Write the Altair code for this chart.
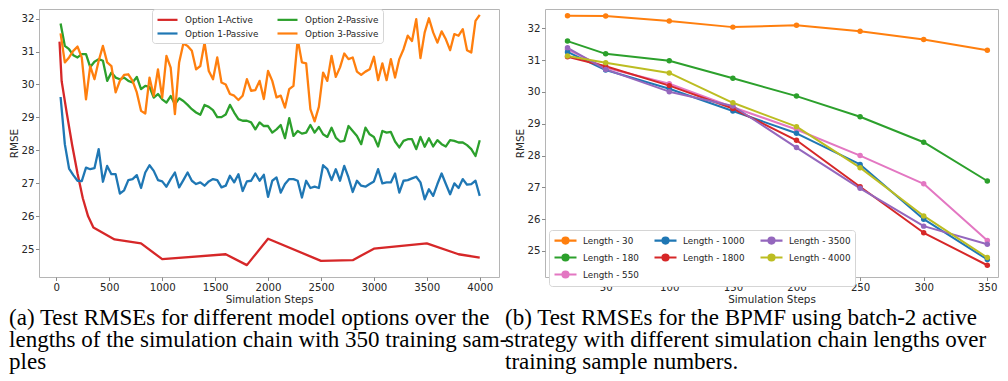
import altair as alt
import pandas as pd

# ---------------- Left panel data ----------------
active_steps = [30, 50, 100, 150, 200, 250, 300, 350, 550, 800, 1000, 1600, 1800,
                2000, 2500, 2800, 3000, 3500, 3800, 4000]
active_rmse = [31.3, 30.1, 29.1, 28.15, 27.3, 26.55, 26.0, 25.66, 25.3, 25.18, 24.70,
               24.85, 24.52, 25.32, 24.65, 24.67, 25.02, 25.18, 24.85, 24.75]

passive_steps = list(range(40, 4001, 40))

opt1_passive = [29.62, 28.19, 27.45, 27.25, 27.08, 27.07, 27.48, 27.43, 27.46, 28.04,
                27.05, 27.53, 27.28, 27.28, 26.69, 26.79, 27.10, 27.13, 27.25, 26.86,
                27.33, 27.55, 27.38, 27.10, 27.06, 26.90, 27.13, 27.33, 26.88, 27.10,
                27.33, 27.08, 26.98, 27.03, 26.93, 27.06, 27.13, 27.10, 26.88, 26.93,
                27.23, 27.03, 27.28, 26.77, 27.06, 27.08, 27.30, 27.08, 27.26, 26.59,
                27.08, 27.18, 26.72, 26.98, 27.13, 27.13, 27.08, 26.57, 27.08, 26.86,
                26.90, 26.86, 27.55, 27.43, 27.10, 27.43, 27.08, 27.53, 27.18, 26.74,
                27.08, 26.93, 26.90, 26.98, 27.06, 27.43, 27.00, 27.03, 27.03, 27.30,
                26.72, 27.08, 27.10, 27.15, 27.20, 27.03, 26.52, 26.82, 26.62, 26.98,
                27.30, 26.98, 26.67, 27.00, 26.86, 27.13, 26.96, 26.98, 27.08, 26.62]

opt2_passive = [31.85, 31.17, 31.07, 30.89, 30.82, 30.92, 30.92, 30.53, 30.69, 30.77,
                30.72, 30.11, 30.36, 30.21, 30.16, 30.21, 30.11, 30.06, 30.23, 29.86,
                29.96, 29.93, 29.60, 29.71, 29.55, 29.45, 29.65, 29.40, 29.58, 29.50,
                29.38, 29.25, 29.15, 29.08, 29.38, 29.32, 29.22, 29.01, 29.01, 29.09,
                29.38, 29.15, 28.95, 28.90, 28.90, 28.85, 28.64, 28.85, 28.74, 28.74,
                28.54, 28.64, 28.77, 28.37, 28.98, 28.44, 28.59, 28.51, 28.54, 28.77,
                28.54, 28.71, 28.49, 28.41, 28.69, 28.39, 28.27, 28.29, 28.74, 28.59,
                28.44, 28.19, 28.69, 28.49, 28.41, 28.12, 28.59, 28.54, 28.56, 28.27,
                28.09, 28.29, 28.34, 28.34, 28.04, 28.41, 28.11, 28.37, 28.12, 28.31,
                28.19, 28.12, 28.31, 28.29, 28.24, 28.24, 28.16, 28.04, 27.83, 28.31]

opt3_passive = [31.55, 30.67, 30.82, 31.02, 31.15, 30.82, 29.55, 30.56, 30.16, 30.72,
                31.17, 30.67, 30.56, 29.76, 30.11, 30.29, 30.31, 30.11, 29.76, 29.20,
                29.12, 30.21, 29.65, 30.46, 29.60, 30.87, 30.51, 29.10, 30.67, 31.24,
                31.17, 31.02, 30.46, 30.56, 31.27, 30.41, 30.16, 30.82, 30.06, 30.00,
                29.71, 29.66, 29.53, 29.66, 30.16, 29.81, 29.83, 30.11, 29.56, 30.41,
                30.11, 29.61, 29.66, 29.30, 29.86, 29.96, 31.37, 30.67, 30.64, 29.25,
                28.88, 29.32, 30.36, 30.11, 30.87, 30.23, 30.52, 30.94, 30.77, 30.82,
                30.39, 30.29, 30.39, 30.46, 30.84, 30.13, 30.64, 30.13, 30.77, 30.21,
                30.77, 31.07, 31.48, 31.32, 31.98, 30.80, 31.58, 32.01, 31.58, 31.27,
                31.61, 31.37, 31.04, 31.53, 31.48, 31.68, 31.04, 30.97, 31.93, 32.11]

left_names = ["Option 1-Active", "Option 1-Passive", "Option 2-Passive", "Option 3-Passive"]
left_colors = ["#d62728", "#1f77b4", "#2ca02c", "#ff7f0e"]

# ---------------- Right panel data ----------------
train_samples = [20, 50, 100, 150, 200, 250, 300, 350]
right_names = ["Length - 30", "Length - 180", "Length - 550", "Length - 1000",
               "Length - 1800", "Length - 3500", "Length - 4000"]
right_values = [
    [32.40, 32.39, 32.23, 32.04, 32.10, 31.91, 31.65, 31.31],
    [31.60, 31.20, 30.98, 30.43, 29.87, 29.22, 28.42, 27.20],
    [31.34, 30.76, 30.26, 29.52, 28.82, 28.00, 27.11, 25.33],
    [31.26, 30.69, 30.10, 29.40, 28.70, 27.72, 26.00, 24.73],
    [31.11, 30.81, 30.20, 29.48, 28.48, 27.02, 25.57, 24.55],
    [31.39, 30.71, 30.01, 29.56, 28.25, 26.97, 25.78, 25.21],
    [31.13, 30.92, 30.60, 29.66, 28.91, 27.62, 26.10, 24.79],
]
right_colors = ["#ff7f0e", "#2ca02c", "#e377c2", "#1f77b4", "#d62728", "#9467bd", "#bcbd22"]
# domain order that makes the 3-column legend read
# col1: 30, 180, 550 | col2: 1000, 1800 | col3: 3500, 4000
right_legend_order = ["Length - 30", "Length - 180", "Length - 4000", "Length - 1000",
                      "Length - 1800", "Length - 550", "Length - 3500"]

caption_a = ["(a) Test RMSEs for different model options over the",
             "lengths of the simulation chain with 350 training sam-",
             "ples"]
caption_b = ["(b) Test RMSEs for the BPMF using batch-2 active",
             "strategy with different simulation chain lengths over",
             "training sample numbers."]

# ---------------- Build frames ----------------
rows = []
for s, v in zip(active_steps, active_rmse):
    rows.append({"series": "Option 1-Active", "step": s, "rmse": v})
for name, vals in zip(left_names[1:], [opt1_passive, opt2_passive, opt3_passive]):
    for s, v in zip(passive_steps, vals):
        rows.append({"series": name, "step": s, "rmse": v})
left_df = pd.DataFrame(rows)

rrows = []
for name, vals in zip(right_names, right_values):
    for s, v in zip(train_samples, vals):
        rrows.append({"series": name, "step": s, "rmse": v})
right_df = pd.DataFrame(rrows)

FONT = "DejaVu Sans"
TXT = "#262626"

def axis(vals):
    return alt.Axis(values=vals, format="d", grid=False, domain=False,
                    tickColor="#8a8a8a", tickSize=3.5, labelPadding=1.5, titlePadding=2,
                    labelFont=FONT, labelFontSize=10.2, labelColor=TXT,
                    titleFont=FONT, titleFontSize=10.4, titleFontWeight="normal",
                    titleColor=TXT)

def legend(x, y, cols, path, loff, cpad):
    return alt.Legend(orient="none", legendX=x, legendY=y, columns=cols, title=None,
                      direction="vertical", symbolType=path, symbolSize=100,
                      symbolStrokeWidth=2.2, labelFont=FONT, labelFontSize=8.8,
                      labelColor=TXT, fillColor="white", strokeColor="#d5d5d5",
                      cornerRadius=3, padding=4, rowPadding=2, columnPadding=cpad,
                      labelOffset=loff)

# left legend: plain 20px line (nominal symbol box 10px, line extends 10px right)
left_path = "M-1,0L3,0"
left_color = alt.Color(
    "series:N",
    scale=alt.Scale(domain=left_names, range=left_colors),
    legend=legend(113, 0, 2, left_path, 16, 14),
)

lx = alt.X("step:Q", title="Simulation Steps",
           scale=alt.Scale(domain=[-164, 4182], nice=False, zero=False),
           axis=axis([0, 500, 1000, 1500, 2000, 2500, 3000, 3500, 4000]))
ly = alt.Y("rmse:Q", title="RMSE",
           scale=alt.Scale(domain=[24.16, 32.29], nice=False, zero=False),
           axis=axis([25, 26, 27, 28, 29, 30, 31, 32]))

left = alt.Chart(left_df).mark_line(strokeWidth=2.3, strokeJoin="round").encode(
    x=lx, y=ly, color=left_color
).properties(
    width=460, height=268,
    title=alt.Title(text=caption_a, orient="bottom", anchor="start", frame="bounds",
                    font="Liberation Serif", fontSize=23, fontWeight="normal",
                    lineHeight=22, offset=2, color="black"),
)

# right legend: 22px line with a dot in its middle
right_path = ("M-1,0L3.4,0M0.6,0A0.6,0.6,0,1,0,1.8,0A0.6,0.6,0,1,0,0.6,0Z")
right_color_map = dict(zip(right_names, right_colors))
right_color = alt.Color(
    "series:N",
    scale=alt.Scale(domain=right_legend_order,
                    range=[right_color_map[n] for n in right_legend_order]),
    legend=legend(4, 221, 3, right_path, 17, 11),
)
rx = alt.X("step:Q", title="Simulation Steps",
           scale=alt.Scale(domain=[2.3, 358.4], nice=False, zero=False),
           axis=axis([50, 100, 150, 200, 250, 300, 350]))
ry = alt.Y("rmse:Q", title="RMSE",
           scale=alt.Scale(domain=[24.18, 32.61], nice=False, zero=False),
           axis=axis([25, 26, 27, 28, 29, 30, 31, 32]))

right = alt.Chart(right_df).mark_line(
    strokeWidth=2, strokeJoin="round",
    point=alt.OverlayMarkDef(filled=True, size=30)
).encode(x=rx, y=ry, color=right_color).properties(
    width=453, height=268,
    title=alt.Title(text=caption_b, orient="bottom", anchor="start", frame="bounds",
                    font="Liberation Serif", fontSize=23, fontWeight="normal",
                    lineHeight=22, offset=2, color="black", dx=-10),
)

chart = alt.hconcat(
    left, right, spacing=46, bounds="flush", background="white",
    padding={"left": 0, "top": 0, "right": 0, "bottom": 0},
).resolve_scale(color="independent").resolve_legend(color="independent").configure_view(
    stroke="#b5b5b5", strokeWidth=1
)

chart.save("out.html", embed_options={"renderer": "svg", "actions": False})
